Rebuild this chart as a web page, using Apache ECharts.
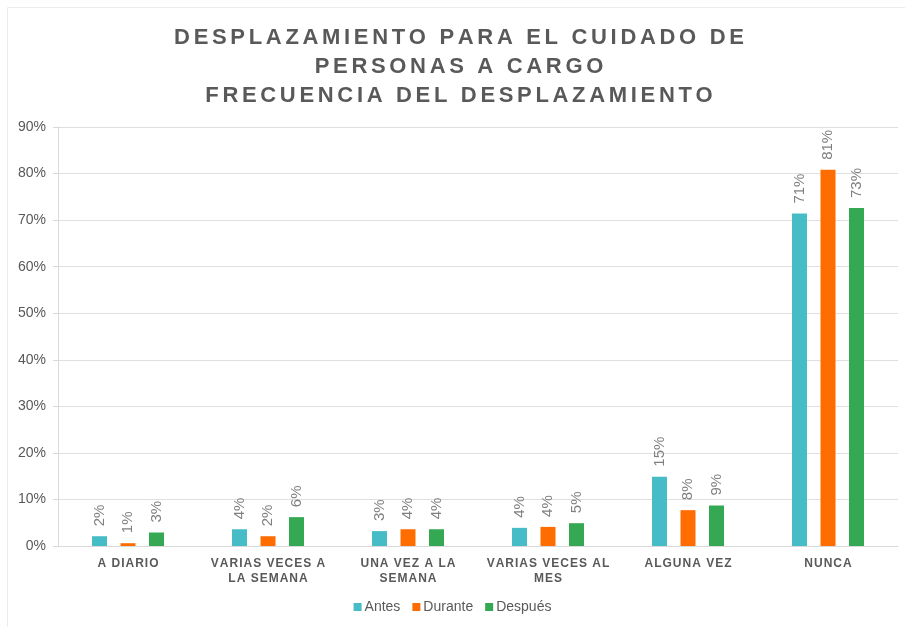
<!DOCTYPE html>
<html>
<head>
<meta charset="utf-8">
<script src="https://cdn.jsdelivr.net/npm/echarts@6/dist/echarts.min.js"></script>
<style>
  html, body { margin: 0; padding: 0; background: #fff; }
  #chart { width: 905px; height: 627px; }
</style>
</head>
<body>
<div id="chart"></div>
<script>
var categories = ['A DIARIO', 'VARIAS VECES A\nLA SEMANA', 'UNA VEZ A LA\nSEMANA', 'VARIAS VECES AL\nMES', 'ALGUNA VEZ', 'NUNCA']
var seriesNames = ['Antes', 'Durante', 'Después']
var antes = [2.1, 3.6, 3.2, 3.9, 14.9, 71.4]
var durante = [0.6, 2.1, 3.6, 4.1, 7.7, 80.8]
var despues = [2.9, 6.2, 3.6, 4.9, 8.7, 72.6]
var titleLines = ['DESPLAZAMIENTO PARA EL CUIDADO DE', 'PERSONAS A CARGO', 'FRECUENCIA DEL DESPLAZAMIENTO']

// spread letters a bit, the original title uses wide tracking
function track(s, sp) {
  return s.split('\n').map(function (line) {
    return line.split('').join(sp)
  }).join('\n')
}

var colors = ['#46bdc6', '#ff6d01', '#34a853']
var font = 'Liberation Sans, Arial, sans-serif'

function makeSeries(name, data, i) {
  return {
    name: name,
    type: 'bar',
    data: data,
    barWidth: 15,
    barGap: '90%',
    itemStyle: { color: colors[i] },
    label: {
      show: true,
      position: 'top',
      rotate: 90,
      distance: 10,
      align: 'left',
      verticalAlign: 'middle',
      color: '#808080',
      fontSize: 15,
      fontFamily: font,
      formatter: function (p) {
        return Math.round(p.value) + '%'
      }
    }
  }
}

var chart = echarts.init(document.getElementById('chart'))
chart.setOption({
  animation: false,
  graphic: [{
    type: 'rect',
    shape: { x: 7.5, y: 7.5, width: 920, height: 640 },
    style: { fill: 'none', stroke: '#ececec', lineWidth: 1 },
    silent: true
  }],
  title: {
    text: track(titleLines.join('\n'), '\u200a\u200a'),
    left: 454,
    top: 18,
    textAlign: 'center',
    textStyle: {
      color: '#595959',
      fontSize: 22,
      fontWeight: 'bold',
      fontFamily: font,
      lineHeight: 29
    }
  },
  legend: {
    bottom: 8,
    left: 'center',
    icon: 'rect',
    itemWidth: 8,
    itemHeight: 8,
    itemGap: 12,
    textStyle: {
      color: '#595959',
      fontSize: 14,
      fontFamily: font,
      padding: [0, 0, 0, -2]
    },
    data: seriesNames
  },
  grid: {
    left: 58,
    right: 7,
    top: 127,
    bottom: 81,
    containLabel: false
  },
  xAxis: {
    type: 'category',
    data: categories,
    axisLine: { lineStyle: { color: '#d9d9d9' } },
    axisTick: { show: false },
    axisLabel: {
      interval: 0,
      margin: 10,
      color: '#595959',
      fontSize: 12,
      fontWeight: 'bold',
      lineHeight: 15,
      fontFamily: font,
      formatter: function (v) {
        return track(v, '\u200a')
      }
    }
  },
  yAxis: {
    type: 'value',
    min: 0,
    max: 90,
    interval: 10,
    axisLine: { show: true, lineStyle: { color: '#d9d9d9' } },
    axisTick: { show: true, length: 5, lineStyle: { color: '#d9d9d9' } },
    splitLine: { lineStyle: { color: '#e0e0e0' } },
    axisLabel: {
      margin: 12,
      color: '#595959',
      fontSize: 14,
      fontFamily: font,
      formatter: '{value}%'
    }
  },
  series: [
    makeSeries(seriesNames[0], antes, 0),
    makeSeries(seriesNames[1], durante, 1),
    makeSeries(seriesNames[2], despues, 2)
  ]
})
</script>
</body>
</html>
